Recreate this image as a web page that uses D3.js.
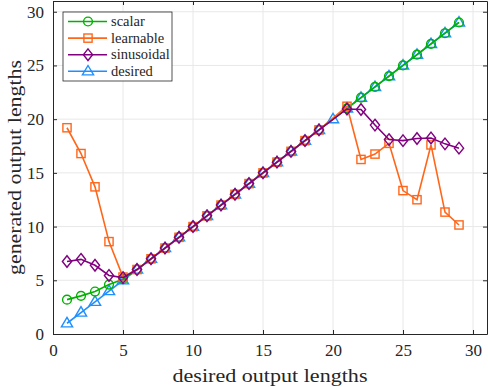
<!DOCTYPE html>
<html>
<head>
<meta charset="utf-8">
<script src="https://cdn.jsdelivr.net/npm/d3@7"></script>
<style>
  body { margin: 0; background: #fff; }
  svg { display: block; }
</style>
</head>
<body>
<svg id="chart"></svg>
<script>
/// data ///
const xMain = [1, 2, 3, 4, 5, 6, 7, 8, 9, 10, 11, 12, 13, 14, 15, 16, 17, 18, 19,
               21, 22, 23, 24, 25, 26, 27, 28, 29];
const xDesired = d3.range(1, 30);
const desiredY = [1, 2, 3, 4, 5, 6, 7, 8, 9, 10, 11, 12, 13, 14, 15, 16, 17, 18, 19, 20,
                  21, 22, 23, 24, 25, 26, 27, 28, 29];
const scalarY = [3.2, 3.55, 3.95, 4.6, 5.1, 6, 7, 8, 9, 10, 11, 12, 13, 14, 15, 16, 17, 18, 19,
                 21, 22, 23, 24, 25, 26, 27, 28, 29];
const learnableY = [19.2, 16.8, 13.7, 8.6, 5.3, 6, 7, 8, 9, 10, 11, 12, 13, 14, 15, 16, 17, 18, 19,
                    21.2, 16.25, 16.75, 17.75, 13.35, 12.5, 17.6, 11.35, 10.15];
const sinusoidalY = [6.75, 6.95, 6.4, 5.45, 5.25, 6, 7, 8, 9, 10, 11, 12, 13, 14, 15, 16, 17, 18, 19,
                     20.95, 20.9, 19.45, 18.1, 18.0, 18.2, 18.25, 17.7, 17.3];
const xTicks = [0, 5, 10, 15, 20, 25, 30];
const yTicks = [0, 5, 10, 15, 20, 25, 30];

/// layout ///
const width = 488, height = 387;
const margin = { top: 1, right: 1, bottom: 53, left: 53 };
const axisColour = "#262626";
const gridColour = "#e8e8e8";
const serif = "'Liberation Serif', 'DejaVu Serif', 'Times New Roman', serif";

const series = [
  { name: "desired",    xs: xDesired, ys: desiredY,    colour: "#1f8fff", marker: "triangle" },
  { name: "scalar",     xs: xMain,    ys: scalarY,     colour: "#00b200", marker: "circle" },
  { name: "learnable",  xs: xMain,    ys: learnableY,  colour: "#ff6619", marker: "square" },
  { name: "sinusoidal", xs: xMain,    ys: sinusoidalY, colour: "#800080", marker: "diamond" }
];
const legendOrder = ["scalar", "learnable", "sinusoidal", "desired"];

const svg = d3.select("#chart").attr("width", width).attr("height", height)
  .style("font-family", serif);

const x = d3.scaleLinear().domain([0, 31]).range([margin.left, width - margin.right]);
const y = d3.scaleLinear().domain([0, 31]).range([height - margin.bottom, margin.top]);

// grid
const grid = svg.append("g");
grid.selectAll(".gx").data(xTicks.filter(d => d > 0)).join("line")
  .attr("x1", d => x(d)).attr("x2", d => x(d))
  .attr("y1", y(0)).attr("y2", y(31))
  .attr("stroke", gridColour).attr("stroke-width", 1);
grid.selectAll(".gy").data(yTicks.filter(d => d > 0)).join("line")
  .attr("x1", x(0)).attr("x2", x(31))
  .attr("y1", d => y(d)).attr("y2", d => y(d))
  .attr("stroke", gridColour).attr("stroke-width", 1);

// axes (ticks inward, mirrored on top / right)
const styleAxis = g => {
  g.attr("font-family", null);
  g.select(".domain").attr("stroke", axisColour);
  g.selectAll(".tick line").attr("stroke", axisColour);
  g.selectAll(".tick text").style("font-size", "17px").style("font-family", serif).attr("fill", axisColour);
};
svg.append("g").attr("transform", `translate(0,${y(0)})`)
  .call(d3.axisBottom(x).tickValues(xTicks).tickSize(-4).tickSizeOuter(0).tickPadding(8))
  .call(styleAxis)
  .call(g => g.selectAll(".tick text").attr("dy", "0.85em"));
svg.append("g").attr("transform", `translate(${x(0)},0)`)
  .call(d3.axisLeft(y).tickValues(yTicks).tickSize(-4).tickSizeOuter(0).tickPadding(9))
  .call(styleAxis);
svg.append("g").attr("transform", `translate(0,${y(31)})`)
  .call(d3.axisTop(x).tickValues(xTicks).tickSize(-4).tickSizeOuter(0).tickFormat(""))
  .call(styleAxis);
svg.append("g").attr("transform", `translate(${x(31)},0)`)
  .call(d3.axisRight(y).tickValues(yTicks).tickSize(-4).tickSizeOuter(0).tickFormat(""))
  .call(styleAxis);

// axis labels
svg.append("text")
  .attr("x", 270).attr("y", 382)
  .attr("text-anchor", "middle").style("font-size", "18px").attr("fill", axisColour)
  .attr("textLength", 195).attr("lengthAdjust", "spacingAndGlyphs")
  .text("desired output lengths");
svg.append("text")
  .attr("transform", `translate(21,${(y(0) + y(31)) / 2}) rotate(-90)`)
  .attr("text-anchor", "middle").style("font-size", "18px").attr("fill", axisColour)
  .attr("textLength", 215).attr("lengthAdjust", "spacingAndGlyphs")
  .text("generated output lengths");

// markers
function drawMarker(g, type, colour) {
  const sw = 1.4;
  if (type === "circle") {
    g.append("circle").attr("r", 4.4);
  } else if (type === "square") {
    g.append("rect").attr("x", -4.1).attr("y", -4.1).attr("width", 8.2).attr("height", 8.2);
  } else if (type === "diamond") {
    g.append("path").attr("d", "M0,-5.8L4.6,0L0,5.8L-4.6,0Z");
  } else {
    g.append("path").attr("d", "M0,-5.8L5.6,3.6L-5.6,3.6Z");
  }
  g.selectAll("*").attr("fill", "none").attr("stroke", colour).attr("stroke-width", sw);
}

const line = d3.line().x(d => x(d[0])).y(d => y(d[1]));
const plotG = svg.append("g");
series.forEach(s => {
  const pts = s.xs.map((v, i) => [v, s.ys[i]]);
  const g = plotG.append("g");
  g.append("path").datum(pts).attr("d", line)
    .attr("fill", "none").attr("stroke", s.colour).attr("stroke-width", 1.6);
  pts.forEach(p => {
    const m = g.append("g").attr("transform", `translate(${x(p[0])},${y(p[1])})`);
    drawMarker(m, s.marker, s.colour);
  });
});

// legend
const legend = svg.append("g").attr("transform", "translate(63,12)");
legend.append("rect").attr("width", 109).attr("height", 69)
  .attr("fill", "#fff").attr("stroke", axisColour).attr("stroke-width", 0.8);
legendOrder.forEach((name, i) => {
  const s = series.find(d => d.name === name);
  const row = legend.append("g").attr("transform", `translate(0,${9.5 + i * 16.6})`);
  row.append("line").attr("x1", 5).attr("x2", 44)
    .attr("stroke", s.colour).attr("stroke-width", 1.6);
  drawMarker(row.append("g").attr("transform", "translate(25,0)"), s.marker, s.colour);
  row.append("text").attr("x", 48).attr("dy", "0.33em").attr("fill", axisColour)
    .style("font-size", "14.5px").text(name);
});
</script>
</body>
</html>
